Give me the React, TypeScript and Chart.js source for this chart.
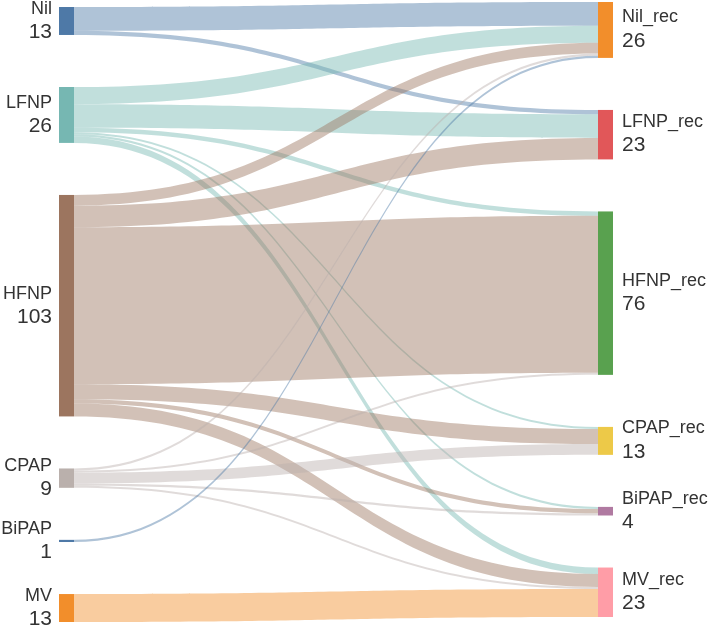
import React, { useEffect, useRef } from "react";
import { Chart, registerables } from "chart.js";

Chart.register(...registerables);

// ---- data ----
const sourceLabels = ["Nil", "LFNP", "HFNP", "CPAP", "BiPAP", "MV"];
const targetLabels = ["Nil_rec", "LFNP_rec", "HFNP_rec", "CPAP_rec", "BiPAP_rec", "MV_rec"];
const linkSource = [0, 0, 1, 1, 1, 1, 1, 1, 2, 2, 2, 2, 2, 2, 3, 3, 3, 3, 3, 4, 5];
const linkTarget = [0, 1, 0, 1, 2, 3, 4, 5, 0, 1, 2, 3, 4, 5, 0, 2, 3, 4, 5, 0, 5];
const linkValue = [11, 2, 8, 11, 2, 1, 1, 3, 5, 10, 73, 7, 2, 6, 1, 1, 5, 1, 1, 1, 13];
const sourceColors = ["#4e79a7", "#76b7b2", "#9c755f", "#bab0ac", "#4e79a7", "#f28e2b"];
const targetColors = ["#f28e2b", "#e15759", "#59a14f", "#edc948", "#b07aa1", "#ff9da7"];

// ---- layout (units of the value scale) ----
const NODE_PAD = 24.2;
const LEFT_OFFSET = 2.33;
const NODE_W = 15;
const LINK_ALPHA = 0.45;

function hexToRgba(hex: string, a: number) {
  const n = parseInt(hex.slice(1), 16);
  return `rgba(${(n >> 16) & 255},${(n >> 8) & 255},${n & 255},${a})`;
}

const sankeyPlugin = {
  id: "sankeyDraw",
  afterDatasetsDraw(chart: any) {
    const ctx = chart.ctx as CanvasRenderingContext2D;
    const xs = chart.scales.x;
    const ys = chart.scales.y;
    const nS = sourceLabels.length;
    const nT = targetLabels.length;
    const sVal = new Array(nS).fill(0);
    const tVal = new Array(nT).fill(0);
    linkValue.forEach((v, i) => {
      sVal[linkSource[i]] += v;
      tVal[linkTarget[i]] += v;
    });
    const sTop: number[] = [];
    let acc = LEFT_OFFSET;
    for (let i = 0; i < nS; i++) {
      sTop.push(acc);
      acc += sVal[i] + NODE_PAD;
    }
    const tTop: number[] = [];
    acc = 0;
    for (let i = 0; i < nT; i++) {
      tTop.push(acc);
      acc += tVal[i] + NODE_PAD;
    }
    const idx = linkValue.map((_, i) => i);
    const sOff: number[] = new Array(linkValue.length);
    const tOff: number[] = new Array(linkValue.length);
    for (let s = 0; s < nS; s++) {
      let o = sTop[s];
      idx
        .filter((i) => linkSource[i] === s)
        .sort((a, b) => linkTarget[a] - linkTarget[b])
        .forEach((i) => {
          sOff[i] = o;
          o += linkValue[i];
        });
    }
    for (let t = 0; t < nT; t++) {
      let o = tTop[t];
      idx
        .filter((i) => linkTarget[i] === t)
        .sort((a, b) => linkSource[a] - linkSource[b])
        .forEach((i) => {
          tOff[i] = o;
          o += linkValue[i];
        });
    }
    const xL = xs.getPixelForValue(0);
    const xR = xs.getPixelForValue(1);
    const x0 = xL + NODE_W;
    const x1 = xR - NODE_W;
    const xm = (x0 + x1) / 2;
    ctx.save();
    idx.forEach((i) => {
      const y0a = ys.getPixelForValue(sOff[i]);
      const y0b = ys.getPixelForValue(sOff[i] + linkValue[i]);
      const y1a = ys.getPixelForValue(tOff[i]);
      const y1b = ys.getPixelForValue(tOff[i] + linkValue[i]);
      ctx.beginPath();
      ctx.moveTo(x0, y0a);
      ctx.bezierCurveTo(xm, y0a, xm, y1a, x1, y1a);
      ctx.lineTo(x1, y1b);
      ctx.bezierCurveTo(xm, y1b, xm, y0b, x0, y0b);
      ctx.closePath();
      ctx.fillStyle = hexToRgba(sourceColors[linkSource[i]], LINK_ALPHA);
      ctx.fill();
    });
    const nameFont = "18px 'Liberation Sans', Arial, sans-serif";
    const valFont = "21px 'Liberation Sans', Arial, sans-serif";
    ctx.textBaseline = "middle";
    for (let s = 0; s < nS; s++) {
      const ya = ys.getPixelForValue(sTop[s]);
      const yb = ys.getPixelForValue(sTop[s] + sVal[s]);
      ctx.fillStyle = sourceColors[s];
      ctx.fillRect(xL, ya, NODE_W, yb - ya);
      const cy = (ya + yb) / 2;
      ctx.fillStyle = "#333";
      ctx.textAlign = "right";
      ctx.font = nameFont;
      ctx.fillText(sourceLabels[s], xL - 7, cy - 12);
      ctx.font = valFont;
      ctx.fillText(String(sVal[s]), xL - 7, cy + 11.5);
    }
    for (let t = 0; t < nT; t++) {
      const ya = ys.getPixelForValue(tTop[t]);
      const yb = ys.getPixelForValue(tTop[t] + tVal[t]);
      ctx.fillStyle = targetColors[t];
      ctx.fillRect(xR - NODE_W, ya, NODE_W, yb - ya);
      const cy = (ya + yb) / 2;
      ctx.fillStyle = "#333";
      ctx.textAlign = "left";
      ctx.font = nameFont;
      ctx.fillText(targetLabels[t], xR + 9, cy - 12.5);
      ctx.font = valFont;
      ctx.fillText(String(tVal[t]), xR + 9, cy + 11);
    }
    ctx.restore();
  },
};

export default function App() {
  const ref = useRef<HTMLCanvasElement | null>(null);
  useEffect(() => {
    if (!ref.current) return;
    const total = linkValue.reduce((a, b) => a + b, 0);
    const yMax = LEFT_OFFSET + total + (sourceLabels.length - 1) * NODE_PAD;
    const chart = new Chart(ref.current, {
      type: "scatter",
      data: { datasets: [] },
      options: {
        animation: false,
        responsive: false,
        layout: { padding: { left: 59, right: 96, top: 2, bottom: 6 } },
        scales: {
          x: { type: "linear", min: 0, max: 1, display: false },
          y: { type: "linear", min: 0, max: yMax, reverse: true, display: false },
        },
        plugins: { legend: { display: false }, tooltip: { enabled: false } },
      },
      plugins: [sankeyPlugin],
    } as any);
    return () => chart.destroy();
  }, []);
  return (
    <div style={{ position: "fixed", left: 0, top: 0, width: 709, height: 628, background: "#fff" }}>
      <canvas ref={ref} width={709} height={628} style={{ display: "block" }} />
    </div>
  );
}
